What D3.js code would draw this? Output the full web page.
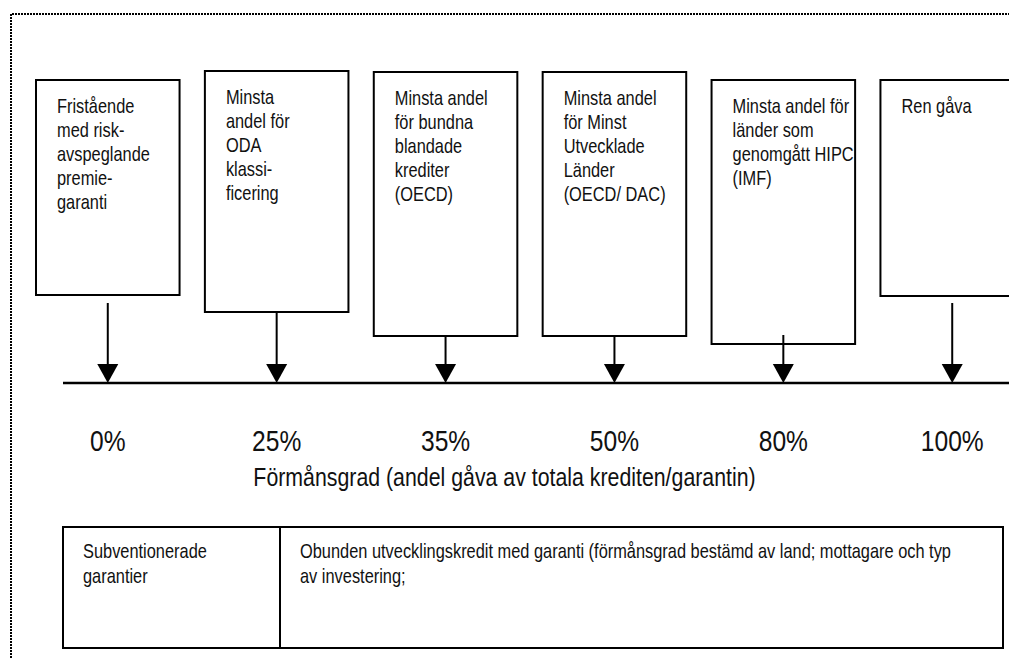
<!DOCTYPE html>
<html>
<head>
<meta charset="utf-8">
<script src="https://cdn.jsdelivr.net/npm/d3@7"></script>
<style>
  body { margin: 0; background: #fff; overflow: hidden; }
  svg { display: block; }
  .chart-text { font-family: "Liberation Sans", Arial, sans-serif; fill: #111; }
</style>
</head>
<body>
<div id="chart"></div>
<script>
// Thresholds for förmånsgrad (percent) and their labels
const levels = [0, 25, 35, 50, 80, 100];
const levelLabels = ['0%', '25%', '35%', '50%', '80%', '100%'];

// Text in each box above the scale, one entry per line
const boxLines = [
  ['Fristående', 'med risk-', 'avspeglande', 'premie-', 'garanti'],
  ['Minsta', 'andel för', 'ODA', 'klassi-', 'ficering'],
  ['Minsta andel', 'för bundna', 'blandade', 'krediter', '(OECD)'],
  ['Minsta andel', 'för Minst', 'Utvecklade', 'Länder', '(OECD/ DAC)'],
  ['Minsta andel för', 'länder som', 'genomgått HIPC', '(IMF)'],
  ['Ren gåva']
];

const axisTitle = 'Förmånsgrad (andel gåva av totala krediten/garantin)';

// Table below the scale: left cell, right cell
const tableLeft = ['Subventionerade', 'garantier'];
const tableRight = ['Obunden utvecklingskredit med garanti (förmånsgrad bestämd av land; mottagare och typ', 'av investering;'];

// Layout only: vertical extent of each box and where its arrow begins
const boxLayout = [
  {top: 80, bottom: 295, arrowFrom: 303},
  {top: 71, bottom: 312, arrowFrom: 312},
  {top: 72, bottom: 336, arrowFrom: 336},
  {top: 72, bottom: 336, arrowFrom: 336},
  {top: 80, bottom: 344, arrowFrom: 335},
  {top: 80, bottom: 296, arrowFrom: 303}
];

const width = 1009, height = 659;
const axisY = 383;
const lineHeight = 24;
// the original uses a narrow face; squeeze a regular sans horizontally
const narrow = 0.82;

const svg = d3.select('#chart').append('svg')
  .attr('width', width)
  .attr('height', height);

// Dotted frame (top and left edges visible)
svg.append('path')
  .attr('d', `M11,${height + 5} L11,14 L${width + 5},14`)
  .attr('fill', 'none')
  .attr('stroke', '#000')
  .attr('stroke-width', 2)
  .attr('stroke-dasharray', '2,1');

// One band per threshold
const x = d3.scaleBand()
  .domain(levels)
  .range([36, 1024])
  .paddingInner(0.15);

const cx = d => x(d) + x.bandwidth() / 2;

// Boxes
const boxes = svg.selectAll('g.box')
  .data(levels)
  .enter()
  .append('g')
  .attr('class', 'box');

boxes.append('rect')
  .attr('x', d => x(d))
  .attr('y', (d, i) => boxLayout[i].top)
  .attr('width', x.bandwidth())
  .attr('height', (d, i) => boxLayout[i].bottom - boxLayout[i].top)
  .attr('fill', '#fff')
  .attr('stroke', '#000')
  .attr('stroke-width', 2);

boxes.append('text')
  .attr('class', 'chart-text')
  .attr('font-size', 20)
  .attr('transform', (d, i) => `translate(${x(d) + 21}, ${boxLayout[i].top + 33}) scale(${narrow}, 1)`)
  .selectAll('tspan')
  .data((d, i) => boxLines[i])
  .enter()
  .append('tspan')
  .attr('x', 0)
  .attr('y', (t, j) => j * lineHeight)
  .text(t => t);

// Arrows
const arrowHead = 19, arrowHalf = 10.5;

boxes.append('line')
  .attr('x1', d => cx(d))
  .attr('x2', d => cx(d))
  .attr('y1', (d, i) => boxLayout[i].arrowFrom)
  .attr('y2', axisY - arrowHead)
  .attr('stroke', '#000')
  .attr('stroke-width', 2);

boxes.append('path')
  .attr('d', d => `M${cx(d) - arrowHalf},${axisY - arrowHead} L${cx(d) + arrowHalf},${axisY - arrowHead} L${cx(d)},${axisY} Z`)
  .attr('fill', '#000');

// Scale line
svg.append('line')
  .attr('x1', 63)
  .attr('x2', width)
  .attr('y1', axisY)
  .attr('y2', axisY)
  .attr('stroke', '#000')
  .attr('stroke-width', 2.5);

// Percent labels via axis
const xAxis = d3.axisBottom(x)
  .tickSize(0)
  .tickFormat((d, i) => levelLabels[i]);

const axisGroup = svg.append('g')
  .attr('transform', `translate(0, ${axisY})`)
  .call(xAxis)
  .attr('font-family', null)
  .attr('font-size', null);

axisGroup.select('.domain').remove();
axisGroup.selectAll('text')
  .attr('class', 'chart-text')
  .attr('font-size', 30)
  .attr('y', 68)
  .attr('dy', null)
  .attr('fill', null)
  .attr('transform', `scale(${narrow}, 1)`);

// Axis title
svg.append('text')
  .attr('class', 'chart-text')
  .attr('transform', `translate(${width / 2}, 486) scale(${narrow}, 1)`)
  .attr('text-anchor', 'middle')
  .attr('font-size', 26)
  .text(axisTitle);

// Table
const table = {left: 63, right: 1003, top: 527, bottom: 648, split: 280};

svg.append('rect')
  .attr('x', table.left)
  .attr('y', table.top)
  .attr('width', table.right - table.left)
  .attr('height', table.bottom - table.top)
  .attr('fill', 'none')
  .attr('stroke', '#000')
  .attr('stroke-width', 2);

svg.append('line')
  .attr('x1', table.split)
  .attr('x2', table.split)
  .attr('y1', table.top)
  .attr('y2', table.bottom)
  .attr('stroke', '#000')
  .attr('stroke-width', 2);

[[tableLeft, table.left + 20], [tableRight, table.split + 20]].forEach(([lines, tx]) => {
  svg.append('text')
    .attr('class', 'chart-text')
    .attr('font-size', 20)
    .attr('transform', `translate(${tx}, ${table.top + 31}) scale(${narrow}, 1)`)
    .selectAll('tspan')
    .data(lines)
    .enter()
    .append('tspan')
    .attr('x', 0)
    .attr('y', (d, j) => j * 25)
    .text(d => d);
});
</script>
</body>
</html>
